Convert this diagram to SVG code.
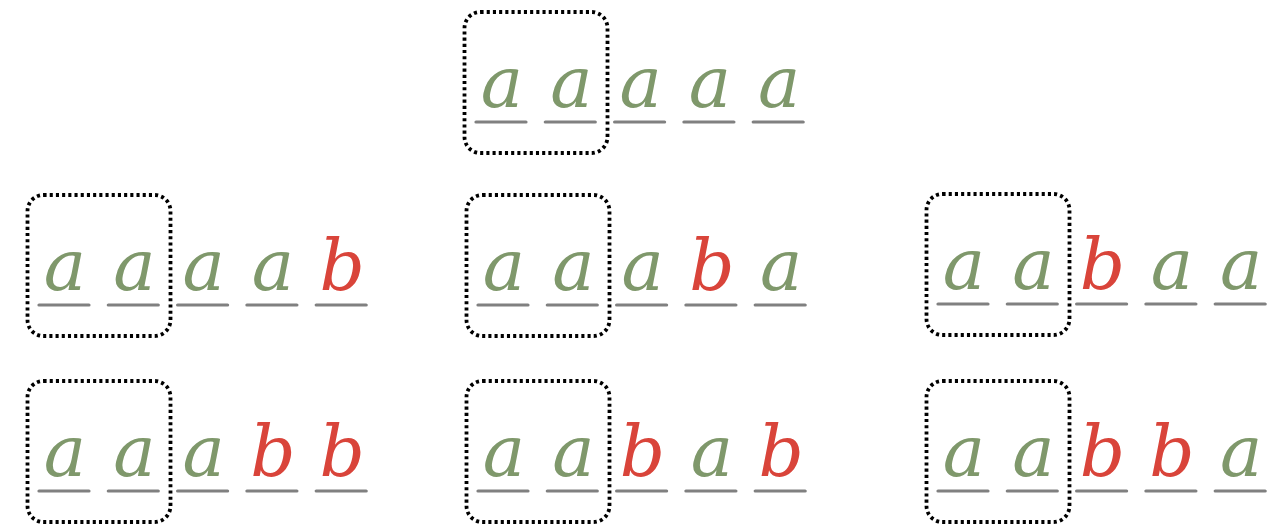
<svg xmlns="http://www.w3.org/2000/svg" width="1276" height="524" viewBox="0 0 1276 524">
<style>
.box{fill:none;stroke:#000;stroke-width:3.8;stroke-dasharray:3.1 3.1}
.ul{stroke:#808080;stroke-width:3.2;stroke-linecap:round}
.t{font-family:"DejaVu Serif",serif;font-style:italic;font-size:71px;text-anchor:middle}
.g{fill:#7f986b}
.r{fill:#d9443a}
</style>
<defs>
<g id="uls">
<line class="ul" x1="0" y1="0" x2="50" y2="0"/>
<line class="ul" x1="69.3" y1="0" x2="119.3" y2="0"/>
<line class="ul" x1="138.6" y1="0" x2="188.6" y2="0"/>
<line class="ul" x1="207.9" y1="0" x2="257.9" y2="0"/>
<line class="ul" x1="277.2" y1="0" x2="327.2" y2="0"/>
</g>
<rect id="bx" class="box" x="-11.5" y="-110" width="143" height="141" rx="16"/>
</defs>
<g id="top" transform="translate(476,122)">
<use href="#bx"/><use href="#uls"/>
<text class="t g" x="26" y="-15">a</text>
<text class="t g" x="95.3" y="-15">a</text>
<text class="t g" x="164.6" y="-15">a</text>
<text class="t g" x="233.9" y="-15">a</text>
<text class="t g" x="303.2" y="-15">a</text>
</g>
<g id="r2a" transform="translate(39,305)">
<use href="#bx"/><use href="#uls"/>
<text class="t g" x="26" y="-15">a</text>
<text class="t g" x="95.3" y="-15">a</text>
<text class="t g" x="164.6" y="-15">a</text>
<text class="t g" x="233.9" y="-15">a</text>
<text class="t r" x="303.2" y="-15">b</text>
</g>
<g id="r2b" transform="translate(478,305)">
<use href="#bx"/><use href="#uls"/>
<text class="t g" x="26" y="-15">a</text>
<text class="t g" x="95.3" y="-15">a</text>
<text class="t g" x="164.6" y="-15">a</text>
<text class="t r" x="233.9" y="-15">b</text>
<text class="t g" x="303.2" y="-15">a</text>
</g>
<g id="r2c" transform="translate(938,304)">
<use href="#bx"/><use href="#uls"/>
<text class="t g" x="26" y="-15">a</text>
<text class="t g" x="95.3" y="-15">a</text>
<text class="t r" x="164.6" y="-15">b</text>
<text class="t g" x="233.9" y="-15">a</text>
<text class="t g" x="303.2" y="-15">a</text>
</g>
<g id="r3a" transform="translate(39,491)">
<use href="#bx"/><use href="#uls"/>
<text class="t g" x="26" y="-15">a</text>
<text class="t g" x="95.3" y="-15">a</text>
<text class="t g" x="164.6" y="-15">a</text>
<text class="t r" x="233.9" y="-15">b</text>
<text class="t r" x="303.2" y="-15">b</text>
</g>
<g id="r3b" transform="translate(478,491)">
<use href="#bx"/><use href="#uls"/>
<text class="t g" x="26" y="-15">a</text>
<text class="t g" x="95.3" y="-15">a</text>
<text class="t r" x="164.6" y="-15">b</text>
<text class="t g" x="233.9" y="-15">a</text>
<text class="t r" x="303.2" y="-15">b</text>
</g>
<g id="r3c" transform="translate(938,491)">
<use href="#bx"/><use href="#uls"/>
<text class="t g" x="26" y="-15">a</text>
<text class="t g" x="95.3" y="-15">a</text>
<text class="t r" x="164.6" y="-15">b</text>
<text class="t r" x="233.9" y="-15">b</text>
<text class="t g" x="303.2" y="-15">a</text>
</g>
<g id="connectors"/>
</svg>
